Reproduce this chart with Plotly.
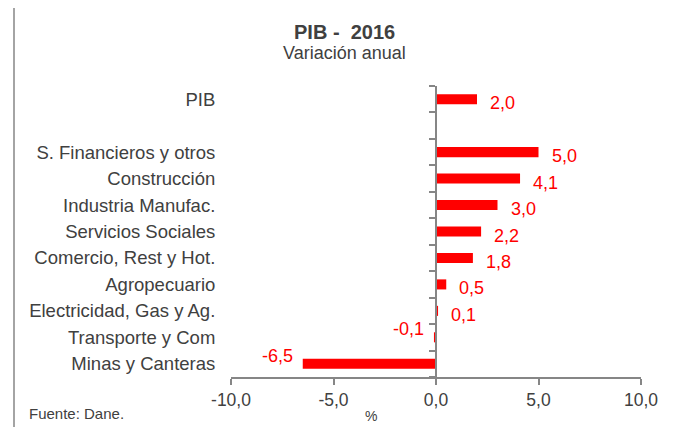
import plotly.graph_objects as go

categories = ["Minas y Canteras", "Transporte y Com", "Electricidad, Gas y Ag.",
              "Agropecuario", "Comercio, Rest y Hot.", "Servicios Sociales",
              "Industria Manufac.", "Construcción", "S. Financieros y otros",
              " ", "PIB"]
values = [-6.5, -0.1, 0.1, 0.5, 1.8, 2.2, 3.0, 4.1, 5.0, None, 2.0]
x_tick_vals = [-10, -5, 0, 5, 10]
x_tick_text = ["-10,0", "-5,0", "0,0", "5,0", "10,0"]

TXT = "#404040"
GRAY = "#868686"
FONT = "Liberation Sans, Arial, sans-serif"

# page has an 8px body margin: work in page pixels, convert to figure pixels
OFF = 8
W, H = 684 - OFF, 427 - OFF
# plot area in page pixels: x 231..641, y 86..377
PX0, PX1, PY0, PY1 = 231, 641, 86, 377
L, R = PX0 - OFF, W - (PX1 - OFF)
T, B = PY0 - OFF, H - (PY1 - OFF)
pw, ph = PX1 - PX0, PY1 - PY0

def px_x(p):
    return (p - PX0) / pw

def px_y(p):
    return (PY1 - p) / ph

fig = go.Figure()
fig.add_trace(go.Bar(
    x=values, y=categories, orientation="h", width=0.38,
    marker=dict(color="#FF0000", line=dict(width=0)),
    hoverinfo="skip",
))

annotations = []
for c, v in zip(categories, values):
    if v is None:
        continue
    txt = f"{v:.1f}".replace(".", ",")
    if v >= 0:
        annotations.append(dict(x=v, y=c, xref="x", yref="y", text=txt, showarrow=False,
                                xanchor="left", yanchor="middle", xshift=11, yshift=-4,
                                font=dict(color="#FF0000", size=18, family=FONT)))
    else:
        annotations.append(dict(x=v, y=c, xref="x", yref="y", text=txt, showarrow=False,
                                xanchor="right", yanchor="middle", xshift=-8, yshift=8,
                                font=dict(color="#FF0000", size=18, family=FONT)))

annotations += [
    dict(x=px_x(344), y=px_y(32), xref="paper", yref="paper", text="<b>PIB -  2016</b>",
         showarrow=False, xanchor="center", yanchor="middle",
         font=dict(size=20, color=TXT, family=FONT)),
    dict(x=px_x(344), y=px_y(53), xref="paper", yref="paper", text="Variación anual",
         showarrow=False, xanchor="center", yanchor="middle",
         font=dict(size=18, color=TXT, family=FONT)),
    dict(x=px_x(27), y=px_y(413), xref="paper", yref="paper", text="Fuente: Dane.",
         showarrow=False, xanchor="left", yanchor="middle",
         font=dict(size=15, color=TXT, family=FONT)),
    dict(x=px_x(371), y=px_y(416), xref="paper", yref="paper", text="%",
         showarrow=False, xanchor="center", yanchor="middle",
         font=dict(size=14, color=TXT, family=FONT)),
]

fig.update_layout(
    width=W, height=H,
    margin=dict(l=L, r=R, t=T, b=B, autoexpand=False),
    paper_bgcolor="white", plot_bgcolor="white",
    showlegend=False,
    separators=",.",
    font=dict(family=FONT, color=TXT),
    annotations=annotations,
    shapes=[dict(type="rect", xref="paper", yref="paper",
                 x0=px_x(14), x1=px_x(679), y0=px_y(470), y1=px_y(5),
                 line=dict(color=GRAY, width=1.5), fillcolor="rgba(0,0,0,0)", layer="below")],
    xaxis=dict(range=[-10, 10], tickvals=x_tick_vals, ticktext=x_tick_text,
               showline=True, linecolor=GRAY, linewidth=2,
               ticks="outside", ticklen=6, tickcolor=GRAY, tickwidth=2,
               showgrid=False, zeroline=False,
               tickfont=dict(size=17.5, color=TXT, family=FONT)),
    yaxis=dict(type="category", categoryorder="array", categoryarray=categories,
               range=[-0.5, len(categories) - 0.5],
               anchor="free", position=0.5,
               showline=True, linecolor=GRAY, linewidth=2,
               ticks="outside", ticklen=6, tickcolor=GRAY, tickwidth=2,
               tickson="boundaries", ticklabelstandoff=216,
               showgrid=False, zeroline=False, automargin=False,
               tickfont=dict(size=18.5, color=TXT, family=FONT)),
)

fig.write_html("out.html")
